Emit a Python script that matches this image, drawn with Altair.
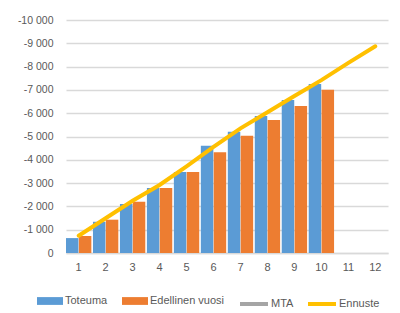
import altair as alt
import pandas as pd

months = [1, 2, 3, 4, 5, 6, 7, 8, 9, 10, 11, 12]
toteuma = [-640, -1340, -2100, -2790, -3480, -4600, -5200, -5880, -6570, -7250]
edellinen = [-730, -1430, -2200, -2790, -3480, -4320, -5030, -5710, -6310, -7010]
ennuste = [-740, -1490, -2240, -2920, -3720, -4550, -5350, -6040, -6740, -7420, -8160, -8870]
mta = []

bar_series = ["Toteuma", "Edellinen vuosi"]
line_series = ["MTA", "Ennuste"]
y_ticks = [0, -1000, -2000, -3000, -4000, -5000, -6000, -7000, -8000, -9000, -10000]

rows = []
for m, v in zip(months, toteuma):
    rows.append({"kk": m, "sarja": "Toteuma", "arvo": v})
for m, v in zip(months, edellinen):
    rows.append({"kk": m, "sarja": "Edellinen vuosi", "arvo": v})
bars_df = pd.DataFrame(rows)

line_rows = [{"kk": m, "sarja": "Ennuste", "arvo": v} for m, v in zip(months, ennuste)]
line_rows += [{"kk": m, "sarja": "MTA", "arvo": v} for m, v in zip(months, mta)]
line_df = pd.DataFrame(line_rows)

FONT = "Liberation Sans"
GRID = "#d9d9d9"
TXT = "#595959"

label_expr = "datum.value == 0 ? '0' : '-' + replace(format(abs(datum.value), ','), ',', ' ')"

x_axis = alt.Axis(
    title=None, labelAngle=0, ticks=False, domainColor=GRID, domainWidth=1.5,
    labelColor=TXT, labelFont=FONT, labelFontSize=11, labelPadding=8,
    grid=False,
)
x_scale = alt.Scale(domain=months, paddingInner=0.06, paddingOuter=0.0)

y_scale = alt.Scale(domain=[-10000, 0], reverse=True, zero=True, nice=False)
y_axis = alt.Axis(
    title=None, values=y_ticks, labelExpr=label_expr, domain=False, ticks=False,
    grid=True, gridColor=GRID, gridWidth=1.5, labelColor=TXT, labelFont=FONT,
    labelFontSize=10.5, labelPadding=13, labelOverlap=False, tickCount=11,
)

rect_path = "M-1,-0.3H1V0.3H-1Z"
line_path = "M-1,0H1"

bars = alt.Chart(bars_df).mark_bar().encode(
    x=alt.X("kk:O", sort=months, scale=x_scale, axis=x_axis),
    xOffset=alt.XOffset("sarja:N", sort=bar_series,
                        scale=alt.Scale(domain=bar_series, paddingInner=0.03)),
    y=alt.Y("arvo:Q", scale=y_scale, axis=y_axis),
    color=alt.Color(
        "sarja:N",
        scale=alt.Scale(domain=bar_series, range=["#5B9BD5", "#ED7D31"]),
        legend=alt.Legend(
            title=None, orient="none", legendX=-29, legendY=268, direction="horizontal",
            symbolType=rect_path, symbolSize=676, symbolStrokeWidth=0,
            labelFont=FONT, labelFontSize=11, labelColor=TXT, labelOffset=2,
            columnPadding=14,
        ),
    ),
)

line = alt.Chart(line_df).mark_line(strokeWidth=4, strokeCap="round").encode(
    x=alt.X("kk:O", sort=months, scale=x_scale, axis=x_axis),
    y=alt.Y("arvo:Q", scale=y_scale, axis=y_axis),
    stroke=alt.Stroke(
        "sarja:N",
        scale=alt.Scale(domain=line_series, range=["#A5A5A5", "#FFC000"]),
        legend=alt.Legend(
            title=None, orient="none", legendX=172, legendY=268, direction="horizontal",
            symbolType=line_path, symbolSize=784, symbolStrokeWidth=4,
            labelFont=FONT, labelFontSize=11, labelColor=TXT, labelOffset=1,
            columnPadding=6,
        ),
    ),
)

chart = alt.layer(bars, line).properties(
    width=322,
    height=233,
    autosize=alt.AutoSizeParams(type="none"),
    padding={"left": 58, "top": 12, "right": 4, "bottom": 56},
    background="white",
).configure_view(stroke=None)

chart.save("out.html", embed_options={"renderer": "svg", "actions": False})
